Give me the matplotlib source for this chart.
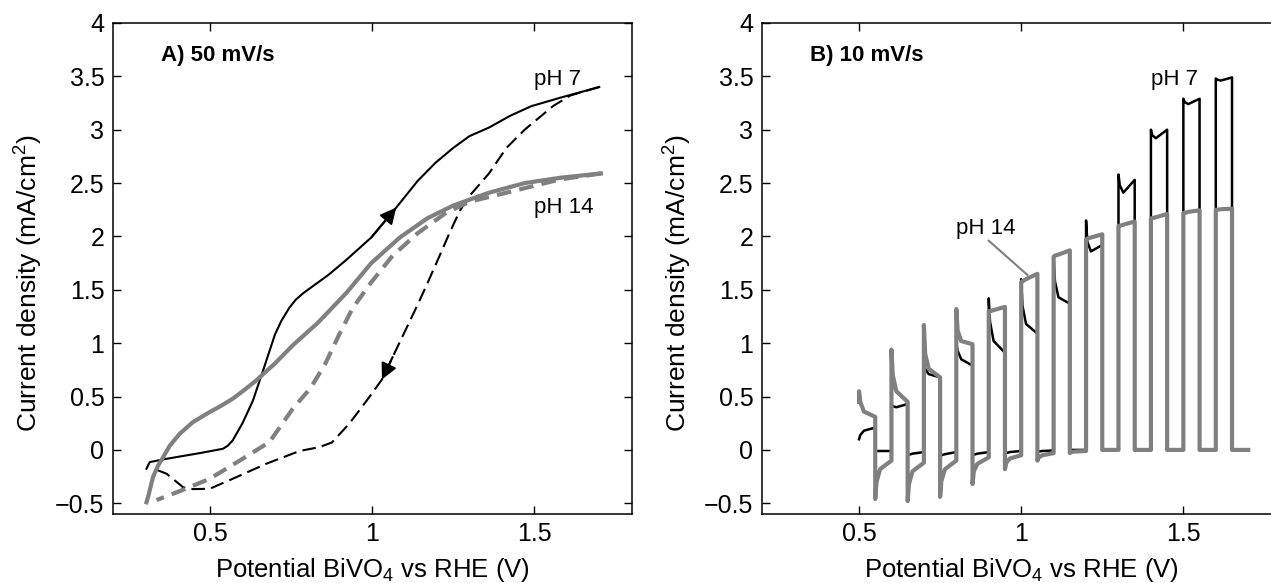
import matplotlib
matplotlib.use('Agg')
import matplotlib.pyplot as plt
from matplotlib.ticker import FuncFormatter

# ---- panel A: cyclic voltammetry at 50 mV/s ----
ph7_fwd_v = [0.304, 0.314, 0.366, 0.468, 0.54, 0.555, 0.57, 0.60, 0.632, 0.653, 0.662, 0.70, 0.72,
             0.744, 0.765, 0.788, 0.865, 0.92, 0.997, 1.074, 1.14, 1.195, 1.25, 1.30, 1.36, 1.425,
             1.49, 1.58, 1.70]
ph7_fwd_j = [-0.176, -0.114, -0.083, -0.03, 0.011, 0.04, 0.09, 0.25, 0.46, 0.65, 0.73, 1.08, 1.21,
             1.33, 1.41, 1.47, 1.64, 1.78, 1.99, 2.27, 2.52, 2.69, 2.83, 2.94, 3.02, 3.13,
             3.22, 3.30, 3.40]

ph7_rev_v = [1.70, 1.61, 1.557, 1.47, 1.414, 1.36, 1.30, 1.27, 1.238, 1.205, 1.17, 1.14, 1.096,
             1.063, 1.03, 0.997, 0.964, 0.929, 0.876, 0.837, 0.776, 0.673, 0.57, 0.499, 0.447,
             0.417, 0.366, 0.33]
ph7_rev_j = [3.40, 3.32, 3.22, 3.00, 2.83, 2.59, 2.38, 2.24, 2.03, 1.80, 1.56, 1.36, 1.08,
             0.87, 0.66, 0.52, 0.385, 0.246, 0.07, 0.026, -0.01, -0.13, -0.27, -0.364, -0.367,
             -0.35, -0.223, -0.18]

ph14_fwd_v = [0.304, 0.309, 0.324, 0.34, 0.355, 0.376, 0.406, 0.447, 0.499, 0.535, 0.57, 0.605,
              0.642, 0.70, 0.755, 0.832, 0.92, 0.997, 1.085, 1.17, 1.25, 1.36, 1.47, 1.58, 1.705]
ph14_fwd_j = [-0.49, -0.44, -0.255, -0.145, -0.07, 0.04, 0.15, 0.26, 0.355, 0.415, 0.48, 0.56,
              0.65, 0.81, 0.98, 1.19, 1.47, 1.75, 1.99, 2.17, 2.29, 2.41, 2.50, 2.55, 2.59]

ph14_rev_v = [1.705, 1.58, 1.414, 1.30, 1.227, 1.14, 1.063, 0.997, 0.94, 0.898, 0.854, 0.81,
              0.755, 0.683, 0.587, 0.499, 0.42, 0.335]
ph14_rev_j = [2.59, 2.535, 2.41, 2.325, 2.22, 2.03, 1.82, 1.57, 1.33, 1.08, 0.80, 0.58,
              0.386, 0.073, -0.108, -0.27, -0.37, -0.47]

# ---- panel B: chopped light at 10 mV/s ----
chop_start = [0.50, 0.60, 0.70, 0.80, 0.90, 1.00, 1.10, 1.20, 1.30, 1.40, 1.50, 1.60]
seg_dv = [0.0, 0.004, 0.015, 0.05]   # sample points inside each 50 mV half period

ph14_first = 0.45
ph14_light = [[0.55, 0.45, 0.36, 0.31], [0.94, 0.70, 0.55, 0.45], [1.17, 0.90, 0.76, 0.68],
              [1.32, 1.12, 1.02, 0.99], [1.30, 1.30, 1.31, 1.34], [1.57, 1.58, 1.60, 1.65],
              [1.81, 1.82, 1.83, 1.87], [1.97, 1.98, 1.99, 2.02], [2.10, 2.10, 2.11, 2.14],
              [2.17, 2.17, 2.18, 2.21], [2.22, 2.22, 2.23, 2.245], [2.25, 2.25, 2.255, 2.26]]
ph14_dark = [[-0.46, -0.30, -0.18, -0.10], [-0.48, -0.32, -0.20, -0.12], [-0.44, -0.29, -0.18, -0.10],
             [-0.32, -0.20, -0.13, -0.07], [-0.18, -0.12, -0.08, -0.05], [-0.10, -0.07, -0.05, -0.03],
             [-0.03, -0.02, -0.015, -0.01], [0.0, 0.0, 0.0, 0.0], [0.0, 0.0, 0.0, 0.0],
             [0.0, 0.0, 0.0, 0.0], [0.0, 0.0, 0.0, 0.0], [0.0, 0.0, 0.0, 0.0]]

ph7_light = [[0.10, 0.14, 0.18, 0.21], [0.40, 0.41, 0.40, 0.43], [0.80, 0.76, 0.71, 0.68],
             [1.00, 0.93, 0.85, 0.79], [1.42, 1.20, 1.02, 0.91], [1.60, 1.35, 1.18, 1.09],
             [1.80, 1.58, 1.43, 1.37], [2.15, 1.95, 1.86, 1.92], [2.58, 2.48, 2.41, 2.53],
             [3.00, 2.95, 2.92, 3.00], [3.29, 3.26, 3.24, 3.29], [3.48, 3.47, 3.46, 3.49]]
ph7_dark = [[0.0, -0.01, -0.01, -0.01], [-0.05, -0.045, -0.035, -0.02], [-0.06, -0.05, -0.04, -0.02],
            [-0.05, -0.045, -0.035, -0.02], [-0.035, -0.03, -0.02, -0.01], [-0.02, -0.015, -0.01, -0.005],
            [0.0, 0.0, 0.0, 0.0], [0.0, 0.0, 0.0, 0.0], [0.0, 0.0, 0.0, 0.0],
            [0.0, 0.0, 0.0, 0.0], [0.0, 0.0, 0.0, 0.0], [0.0, 0.0, 0.0, 0.0]]

y_ticks = [-0.5, 0, 0.5, 1, 1.5, 2, 2.5, 3, 3.5, 4]
x_ticks = [0.5, 1, 1.5]

GRAY = '#808080'
TICK_FS = 18
LABEL_FS = 18.5

plt.rcParams['font.family'] = ['Liberation Sans', 'DejaVu Sans']
plt.rcParams['mathtext.fontset'] = 'custom'
plt.rcParams['mathtext.rm'] = 'Liberation Sans'
plt.rcParams['mathtext.it'] = 'Liberation Sans:italic'
plt.rcParams['mathtext.bf'] = 'Liberation Sans:bold'


def chop_trace(light, dark, first=None):
    v, j = [], []
    if first is not None:
        v.append(chop_start[0])
        j.append(first)
    for k, x0 in enumerate(chop_start):
        for dv, val in zip(seg_dv, light[k]):
            v.append(x0 + dv)
            j.append(val)
        for dv, val in zip(seg_dv, dark[k]):
            v.append(x0 + 0.05 + dv)
            j.append(val)
    return v, j


def fmt(val, pos):
    return ('%g' % val).replace('-', '\u2212')


def style_axes(ax):
    ax.set_xlim(0.2, 1.8)
    ax.set_ylim(-0.6, 4)
    ax.set_xticks(x_ticks)
    ax.set_yticks(y_ticks)
    ax.xaxis.set_major_formatter(FuncFormatter(fmt))
    ax.yaxis.set_major_formatter(FuncFormatter(fmt))
    ax.tick_params(direction='in', top=True, right=True, length=6, width=1,
                   labelsize=TICK_FS, pad=6)
    for sp in ax.spines.values():
        sp.set_linewidth(1.1)
    ax.set_xlabel('Potential BiVO$_4$ vs RHE (V)', fontsize=LABEL_FS)
    ax.set_ylabel('Current density (mA/cm$^2$)', fontsize=LABEL_FS + 0.5)
    ax.yaxis.set_label_coords(-0.13, 0.47)
    ax.xaxis.set_label_coords(0.5, -0.086)


fig = plt.figure(figsize=(12.71, 5.83), dpi=100)
axA = fig.add_axes([0.0887, 0.1184, 0.4083, 0.8422])
axB = fig.add_axes([0.5993, 0.1184, 0.4083, 0.8422])

arrow_kw = dict(arrowstyle='-|>', color='k', lw=1.5, mutation_scale=24,
                shrinkA=0, shrinkB=0)

# panel A
axA.plot(ph7_fwd_v, ph7_fwd_j, color='k', lw=1.5)
axA.plot(ph7_rev_v, ph7_rev_j, color='k', lw=1.5, ls=(0, (6.5, 3)))
axA.plot(ph14_fwd_v, ph14_fwd_j, color=GRAY, lw=3)
axA.plot(ph14_rev_v, ph14_rev_j, color=GRAY, lw=3, ls=(0, (3.5, 2)))

ia = ph7_fwd_v.index(1.074)
axA.annotate('', xy=(ph7_fwd_v[ia], ph7_fwd_j[ia]),
             xytext=(ph7_fwd_v[ia - 1], ph7_fwd_j[ia - 1]), arrowprops=arrow_kw)
ib = ph7_rev_v.index(1.03)
axA.annotate('', xy=(ph7_rev_v[ib], ph7_rev_j[ib]),
             xytext=(ph7_rev_v[ib - 1], ph7_rev_j[ib - 1]), arrowprops=arrow_kw)

axA.text(0.35, 3.64, 'A) 50 mV/s', fontsize=16, fontweight='bold')
axA.text(1.5, 3.42, 'pH 7', fontsize=16)
axA.text(1.5, 2.22, 'pH 14', fontsize=16)
style_axes(axA)

# panel B
v7, j7 = chop_trace(ph7_light, ph7_dark)
v14, j14 = chop_trace(ph14_light, ph14_dark, first=ph14_first)
axB.plot(v7, j7, color='k', lw=1.8)
axB.plot(v14, j14, color=GRAY, lw=3)

axB.text(0.35, 3.64, 'B) 10 mV/s', fontsize=16, fontweight='bold')
axB.text(1.399, 3.42, 'pH 7', fontsize=16)
axB.text(0.80, 2.02, 'pH 14', fontsize=16)
axB.plot([0.90, 1.019], [1.96, 1.64], color=GRAY, lw=1.5)
style_axes(axB)

fig.savefig('out.png', dpi=100)
